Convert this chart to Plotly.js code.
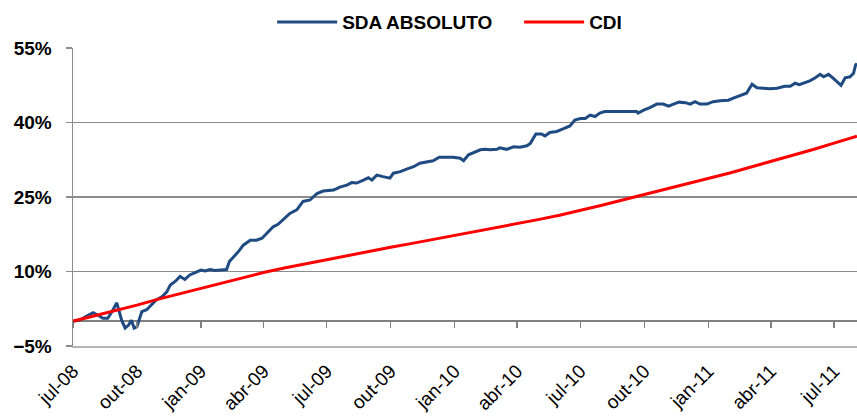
<!DOCTYPE html>
<html>
<head>
<meta charset="utf-8">
<script src="https://cdn.plot.ly/plotly-3.0.1.min.js"></script>
<style>html,body{margin:0;padding:0;background:#fff;}#chart{width:857px;height:419px;}</style>
</head>
<body>
<div id="chart"></div>
<script>
const sdaDates = [
'2008-07-01','2008-07-11','2008-07-20','2008-07-30','2008-08-06','2008-08-13','2008-08-20','2008-08-26','2008-09-02','2008-09-06',
'2008-09-09','2008-09-14','2008-09-19','2008-09-23','2008-09-27','2008-10-01','2008-10-05','2008-10-08','2008-10-15','2008-10-22',
'2008-10-29','2008-11-06','2008-11-13','2008-11-18','2008-11-25','2008-12-02','2008-12-09','2008-12-16','2008-12-26','2009-01-01',
'2009-01-07','2009-01-14','2009-01-21','2009-01-29','2009-02-07','2009-02-11','2009-02-17','2009-02-24','2009-03-03','2009-03-13',
'2009-03-22','2009-03-30','2009-04-08','2009-04-15','2009-04-22','2009-05-02','2009-05-09','2009-05-19','2009-05-28','2009-06-07',
'2009-06-17','2009-06-26','2009-07-11','2009-07-20','2009-07-30','2009-08-06','2009-08-13','2009-08-23','2009-08-30','2009-09-04',
'2009-09-11','2009-09-20','2009-09-30','2009-10-05','2009-10-15','2009-10-24','2009-11-03','2009-11-12','2009-11-22','2009-12-01',
'2009-12-10','2009-12-16','2009-12-30','2010-01-09','2010-01-14','2010-01-21','2010-01-28','2010-02-07','2010-02-14','2010-02-21',
'2010-03-03','2010-03-07','2010-03-17','2010-03-27','2010-04-05','2010-04-15','2010-04-20','2010-04-28','2010-05-06','2010-05-11',
'2010-05-18','2010-05-28','2010-06-06','2010-06-16','2010-06-23','2010-07-01','2010-07-08','2010-07-15','2010-07-22','2010-07-29',
'2010-08-05','2010-08-13','2010-08-22','2010-09-06','2010-09-20','2010-09-22','2010-09-30','2010-10-09','2010-10-19','2010-10-28',
'2010-11-05','2010-11-12','2010-11-20','2010-11-29','2010-12-06','2010-12-13','2010-12-20','2010-12-30','2011-01-08','2011-01-18',
'2011-01-30','2011-02-06','2011-02-16','2011-02-25','2011-03-05','2011-03-12','2011-03-21','2011-03-31','2011-04-10','2011-04-14',
'2011-04-21','2011-04-29','2011-05-06','2011-05-12','2011-05-18','2011-05-27','2011-06-04','2011-06-11','2011-06-16','2011-06-23',
'2011-06-30','2011-07-07','2011-07-11','2011-07-17','2011-07-24','2011-07-29','2011-08-01','2011-08-03'
];
const sdaValues = [
0.0,0.2,1.0,1.7,1.2,0.6,0.6,1.9,3.7,1.9,
0.2,-1.4,-0.8,0.2,-1.4,-1.1,0.9,1.9,2.3,3.3,
4.3,4.9,5.9,7.3,8.0,9.0,8.4,9.3,10.0,10.3,
10.1,10.4,10.2,10.3,10.4,12.0,12.9,14.0,15.3,16.3,
16.3,16.7,18.0,19.0,19.5,20.7,21.7,22.4,24.1,24.4,
25.7,26.2,26.4,27.0,27.4,27.9,27.8,28.4,28.9,28.4,
29.4,29.1,28.8,29.8,30.1,30.6,31.1,31.8,32.1,32.3,
33.0,33.0,33.0,32.8,32.3,33.5,33.9,34.5,34.6,34.5,
34.6,34.9,34.6,35.1,35.0,35.3,35.8,37.7,37.7,37.3,
38.0,38.2,38.7,39.3,40.5,40.8,40.8,41.5,41.2,41.9,
42.2,42.2,42.3,42.3,42.2,41.9,42.5,43.0,43.7,43.7,
43.3,43.7,44.1,44.0,43.7,44.2,43.7,43.7,44.2,44.4,
44.5,44.9,45.4,45.9,47.7,47.0,46.9,46.8,46.9,47.0,
47.3,47.3,47.9,47.6,47.9,48.4,49.0,49.7,49.2,49.7,
48.9,47.9,47.5,49.0,49.2,49.9,51.6,51.9
];
const cdiDates = [
'2008-07-01','2008-08-01','2008-09-01','2008-10-01','2008-11-01','2008-12-01',
'2009-01-01','2009-02-01','2009-03-01','2009-04-01','2009-05-01','2009-06-01',
'2009-07-01','2009-08-01','2009-09-01','2009-10-01','2009-11-01','2009-12-01',
'2010-01-01','2010-02-01','2010-03-01','2010-04-01','2010-05-01','2010-06-01',
'2010-07-01','2010-08-01','2010-09-01','2010-10-01','2010-11-01','2010-12-01',
'2011-01-01','2011-02-01','2011-03-01','2011-04-01','2011-05-01','2011-06-01',
'2011-07-01','2011-08-01','2011-08-03'
];
const cdiValues = [
0.00,1.07,2.10,3.22,4.44,5.51,
6.69,7.81,8.74,9.79,10.71,11.57,
12.41,13.30,14.08,14.87,15.66,16.43,
17.28,18.05,18.75,19.65,20.44,21.34,
22.30,23.35,24.45,25.51,26.53,27.55,
28.74,29.84,30.94,32.14,33.25,34.57,
35.85,37.17,37.25
];
const tickDates = ['2008-07-01','2008-10-01','2009-01-01','2009-04-01','2009-07-01','2009-10-01','2010-01-01','2010-04-01','2010-07-01','2010-10-01','2011-01-01','2011-04-01','2011-07-01'];
const tickLabels = ['jul-08','out-08','jan-09','abr-09','jul-09','out-09','jan-10','abr-10','jul-10','out-10','jan-11','abr-11','jul-11'];
const seriesNames = ['SDA ABSOLUTO','CDI'];
const xRange = ['2008-07-01','2011-08-03'];

const FONT = 'Arial, "Liberation Sans", sans-serif';
const GRID = '#8c8c8c';

const traces = [
  {x: sdaDates, y: sdaValues, name: seriesNames[0], type: 'scatter', mode: 'lines',
   line: {color: '#1F4A82', width: 3}, xaxis: 'x', yaxis: 'y', hoverinfo: 'x+y'},
  {x: cdiDates, y: cdiValues, name: seriesNames[1], type: 'scatter', mode: 'lines',
   line: {color: '#FF0000', width: 3}, xaxis: 'x2', yaxis: 'y', hoverinfo: 'x+y'}
];

const layout = {
  width: 857, height: 419,
  margin: {l: 73, r: 0, t: 48, b: 73, pad: 0, autoexpand: false},
  paper_bgcolor: '#ffffff', plot_bgcolor: '#ffffff',
  font: {family: FONT, color: '#000000'},
  showlegend: true,
  legend: {orientation: 'h', x: 0.254, xanchor: 'left', y: 1.087, yanchor: 'middle',
           font: {family: FONT, size: 19, color: '#000', weight: 'bold'}, bgcolor: 'rgba(0,0,0,0)',
           itemwidth: 60, entrywidth: 172, entrywidthmode: 'pixels'},
  xaxis: {type: 'date', range: xRange, tickmode: 'array', tickvals: tickDates, ticktext: tickLabels,
          tickangle: -45, tickfont: {family: FONT, size: 19, color: '#000'},
          ticks: '', showgrid: false, zeroline: false,
          showline: true, linecolor: '#b5b5b5', linewidth: 1.5, ticklabelstandoff: 5},
  xaxis2: {type: 'date', overlaying: 'x', matches: 'x', range: xRange, anchor: 'free', position: 5/60,
           tickmode: 'array', tickvals: tickDates, ticks: 'outside', ticklen: 6, tickwidth: 1.5,
           tickcolor: '#808080', showticklabels: false, showgrid: false, zeroline: false, showline: false},
  yaxis: {range: [-5, 55], tickmode: 'linear', tick0: -5, dtick: 15, ticksuffix: '%',
          tickfont: {family: FONT, size: 19, color: '#000', weight: 'bold'},
          showgrid: true, gridcolor: GRID, gridwidth: 1.5,
          zeroline: true, zerolinecolor: '#808080', zerolinewidth: 2,
          showline: true, linecolor: GRID, linewidth: 1.5,
          ticks: 'outside', ticklen: 6, tickwidth: 1.5, tickcolor: GRID, ticklabelstandoff: 10}
};

Plotly.newPlot('chart', traces, layout, {displayModeBar: false, staticPlot: true});
</script>
</body>
</html>
